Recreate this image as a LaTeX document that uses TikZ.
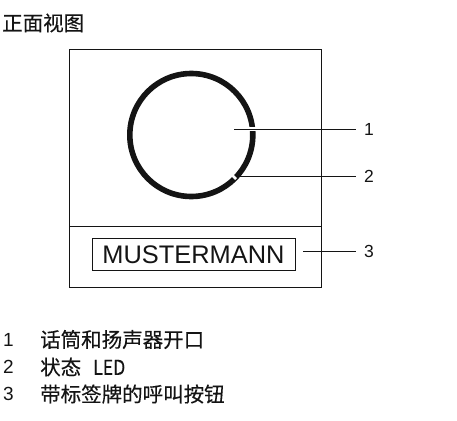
\documentclass[tikz,border=0pt]{standalone}
\usepackage{fontspec}
\setmainfont{Liberation Sans}
\newfontfamily\cjk[FakeBold=0.35]{Noto Sans CJK SC}
\definecolor{ink}{HTML}{141414}
\tikzset{
  panel/.style={draw=ink,line width=0.9pt,fill=none},
  plate/.style={draw=ink,line width=0.8pt,inner sep=0pt,minimum width=203pt,minimum height=32pt,font=\fontsize{25.4}{26}\selectfont,text=ink},
  ringshape/.style={draw=ink,line width=5.6pt,circle,inner sep=0pt,minimum size=123pt},
  leader/.style={draw=ink,line width=0.8pt},
  halo/.style={draw=white,line width=3.5pt},
  callout/.style={inner sep=0pt,anchor=west,font=\fontsize{17.5}{18}\selectfont,text=ink},
  legnum/.style={inner sep=0pt,anchor=west,font=\fontsize{19}{20}\selectfont,text=ink},
  legtext/.style={inner sep=0pt,anchor=west,font=\cjk\fontsize{20.5}{22}\selectfont,text=ink},
}
\begin{document}
\begin{tikzpicture}[x=1pt,y=-1pt]
\useasboundingbox (0,0) rectangle (457,420);
\node[legtext] (title) at (2,23) {正面视图};
\coordinate (tl) at (69,49.5);
\coordinate (br) at (321,287.5);
\draw[panel] (tl) rectangle (br);
\coordinate (dl) at (69,226);
\coordinate (dr) at (321,226);
\draw[panel] (dl) -- (dr);
\node[ringshape] (ring) at (191.3,135) {};
\node[plate] (name) at (193.5,254.7) {MUSTERMANN};
\node[callout] (n1) at (364,129) {1};
\node[callout] (n2) at (364,176.8) {2};
\node[callout] (n3) at (364,251.5) {3};
\coordinate (s1) at (234,129);
\coordinate (s2) at (236,176.8);
\coordinate (s3) at (303,251.5);
% white gaps in the ring
\coordinate (g1a) at (247,129);
\coordinate (g1b) at (258,129);
\draw[halo] (g1a) -- (g1b);
\coordinate (g2a) at (231.5,174.5);
\coordinate (g2b) at (236,179);
\draw[draw=white,line width=2.5pt] (g2a) -- (g2b);
\draw[leader] (s1) -- ([xshift=-8pt]n1.west);
\draw[leader] (s2) -- ([xshift=-8pt]n2.west);
\draw[leader] (s3) -- ([xshift=-8pt]n3.west);
\node[legnum] (l1) at (3,339.5) {1};
\node[legnum] (l2) at (3,367) {2};
\node[legnum] (l3) at (3,394) {3};
\node[legtext] (t1) at (40,339.5) {话筒和扬声器开口};
\node[legtext] (t2) at (40,367) {状态\hspace*{12pt}\scalebox{0.86}[1]{LED}};
\node[legtext] (t3) at (40,394) {带标签牌的呼叫按钮};
\end{tikzpicture}
\end{document}
